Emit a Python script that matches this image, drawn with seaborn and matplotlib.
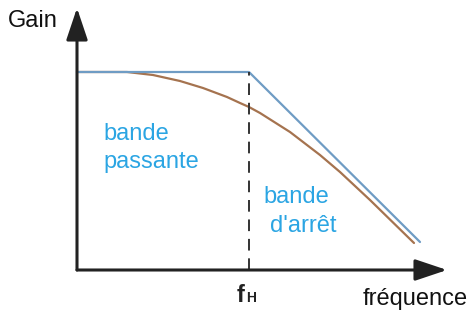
import matplotlib
matplotlib.use("Agg")
import matplotlib.pyplot as plt
import seaborn as sns
import pandas as pd

sns.set_style("white")
plt.rcParams['font.family'] = ['Liberation Sans', 'DejaVu Sans']

# asymptotic (Bode) response, arbitrary units
asym_freq = [0, 172, 343]
asym_gain = [198, 198, 28]

real_freq = [0, 50, 76, 103, 126, 150, 163, 172, 183, 213, 243, 263, 293, 337]
real_gain = [198, 198, 195, 189, 182, 173, 167, 163, 157, 138, 115, 98, 70, 27]

f_h = 172
gain_max = 198

asym = pd.DataFrame({'freq': asym_freq, 'gain': asym_gain})
real = pd.DataFrame({'freq': real_freq, 'gain': real_gain})

fig = plt.figure(figsize=(4.74, 3.2), dpi=100)
ax = fig.add_axes([0, 0, 1, 1])

sns.lineplot(data=real, x='freq', y='gain', color='#a5734f', lw=1.6, ax=ax, sort=False)
sns.lineplot(data=asym, x='freq', y='gain', color='#6f9cc4', lw=1.6, ax=ax, sort=False)
ax.vlines(f_h, 0, gain_max, colors='#333333', lw=1.4, linestyles=(0, (6, 4)))

# axes with arrows
arrow = dict(arrowstyle='-|>,head_length=1.4,head_width=0.47', mutation_scale=14,
             color='#222222', lw=2.2, shrinkA=0, shrinkB=0)
ax.annotate('', xy=(370, 0), xytext=(0, 0), arrowprops=arrow)
ax.annotate('', xy=(0, 262), xytext=(0, 0), arrowprops=arrow)

fs = 17
ax.text(-69, 243, 'Gain', fontsize=fs, color='#111111', va='baseline')
ax.text(286, -35, 'fréquence', fontsize=fs, color='#111111', va='baseline')
ax.text(160, -32, 'f', fontsize=fs, fontweight='bold', color='#222222', va='baseline')
ax.text(169, -32, 'H', fontsize=10, fontweight='bold', color='#222222', va='baseline')

blue = '#2ba5e3'
ax.text(26, 130, 'bande', fontsize=fs, color=blue, va='baseline')
ax.text(26, 102, 'passante', fontsize=fs, color=blue, va='baseline')
ax.text(186, 67, 'bande', fontsize=fs, color=blue, va='baseline')
ax.text(193, 38, "d'arrêt", fontsize=fs, color=blue, va='baseline')

ax.set_xlim(-77, 397)
ax.set_ylim(-50, 270)
ax.axis('off')

fig.savefig('out.png', dpi=100)
